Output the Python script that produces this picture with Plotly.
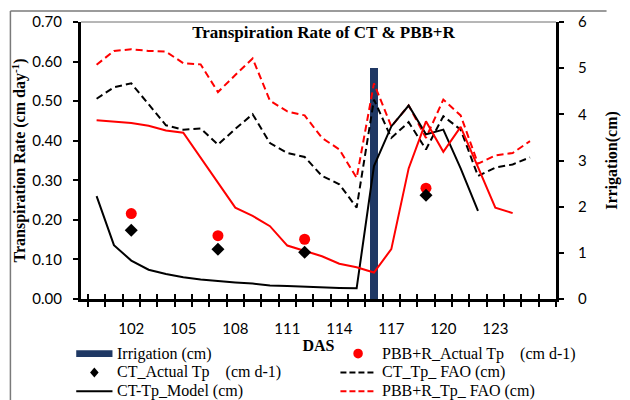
import plotly.graph_objects as go

# ---------------- data ----------------
days_ct_model = list(range(100, 123))
ct_model = [0.260, 0.136, 0.097, 0.074, 0.063, 0.055, 0.049, 0.045, 0.042, 0.039,
            0.034, 0.033, 0.031, 0.029, 0.028, 0.027, 0.336, 0.436, 0.489, 0.416,
            0.428, 0.330, 0.223]

days_pbb_model = list(range(100, 125))
pbb_model = [0.452, 0.449, 0.445, 0.438, 0.426, 0.420, 0.356, 0.293, 0.231, 0.210,
             0.184, 0.135, 0.121, 0.108, 0.089, 0.080, 0.067, 0.126, 0.330, 0.449,
             0.372, 0.435, 0.333, 0.231, 0.217]

days_fao = list(range(100, 126))
ct_fao = [0.506, 0.535, 0.545, 0.491, 0.439, 0.428, 0.431, 0.390, 0.430, 0.467,
          0.394, 0.369, 0.359, 0.311, 0.290, 0.231, 0.504, 0.407, 0.447, 0.378,
          0.462, 0.428, 0.311, 0.332, 0.340, 0.358]
pbb_fao = [0.592, 0.627, 0.631, 0.627, 0.625, 0.596, 0.593, 0.523, 0.566, 0.608,
           0.501, 0.474, 0.464, 0.407, 0.378, 0.306, 0.545, 0.436, 0.489, 0.407,
           0.504, 0.464, 0.342, 0.363, 0.369, 0.399]

obs_days = [102, 107, 112, 119]
ct_actual = [0.174, 0.126, 0.118, 0.262]
pbb_actual = [0.216, 0.160, 0.151, 0.280]

irr_days = [116]
irrigation = [5.0]

x_tick_vals = [102, 105, 108, 111, 114, 117, 120, 123]
x_boundaries = [d + 0.5 for d in range(99, 127)]
left_ticks = [0.0, 0.1, 0.2, 0.3, 0.4, 0.5, 0.6, 0.7]
right_ticks = [0, 1, 2, 3, 4, 5, 6]

legend_labels = ["Irrigation (cm)",
                 "CT_Actual Tp\u00a0\u00a0\u00a0\u00a0(cm d-1)",
                 "CT-Tp_Model (cm)",
                 "PBB+R_Actual Tp\u00a0\u00a0\u00a0\u00a0(cm d-1)",
                 "CT_Tp_ FAO (cm)",
                 "PBB+R_Tp_ FAO (cm)"]

# ---------------- style ----------------
SERIF = "Liberation Serif"
SANS = "Lato"
NAVY = "#1f3864"
RED = "#ff0000"
W_FIG, H_FIG = 630, 400
ML, MR, MT, MB = 81, 51, 20, 101
PW = W_FIG - ML - MR
PH = H_FIG - MT - MB


def PX(x):
    return (x - ML) / PW


def PY(y):
    return (H_FIG - MB - y) / PH


fig = go.Figure()

fig.add_trace(go.Bar(x=irr_days, y=irrigation, width=0.42, marker_color=NAVY,
                     marker_line_width=0, xaxis="x", yaxis="y", showlegend=False,
                     name="Irrigation (cm)"))

fig.add_trace(go.Scatter(x=days_fao, y=ct_fao, mode="lines", xaxis="x2", yaxis="y2",
                         line=dict(color="black", width=2, dash="7px,4px"),
                         showlegend=False, name="CT_Tp_ FAO (cm)"))
fig.add_trace(go.Scatter(x=days_fao, y=pbb_fao, mode="lines", xaxis="x2", yaxis="y2",
                         line=dict(color=RED, width=2, dash="7px,4px"),
                         showlegend=False, name="PBB+R_Tp_ FAO (cm)"))
fig.add_trace(go.Scatter(x=days_ct_model, y=ct_model, mode="lines", xaxis="x2", yaxis="y2",
                         line=dict(color="black", width=2),
                         showlegend=False, name="CT-Tp_Model (cm)"))
fig.add_trace(go.Scatter(x=days_pbb_model, y=pbb_model, mode="lines", xaxis="x2", yaxis="y2",
                         line=dict(color=RED, width=2),
                         showlegend=False, name="PBB+R_Tp_Model"))
fig.add_trace(go.Scatter(x=obs_days, y=pbb_actual, mode="markers", xaxis="x2", yaxis="y2",
                         marker=dict(color=RED, size=11, symbol="circle"),
                         showlegend=False, name="PBB+R_Actual Tp"))
fig.add_trace(go.Scatter(x=obs_days, y=ct_actual, mode="markers", xaxis="x2", yaxis="y2",
                         marker=dict(color="black", size=10, symbol="diamond"),
                         showlegend=False, name="CT_Actual Tp"))

xr = [99.1, 126.5]

fig.update_layout(
    width=W_FIG, height=H_FIG,
    margin=dict(l=ML, r=MR, t=MT, b=MB),
    paper_bgcolor="white", plot_bgcolor="white",
    showlegend=False,
    bargap=0,
    title=dict(text="Transpiration Rate of CT &amp; PBB+R", x=323.5 / W_FIG, xanchor="center",
               y=1 - 32 / H_FIG, yanchor="middle",
               font=dict(family=SERIF, size=17, color="black", weight="bold")),
    xaxis=dict(range=xr, showgrid=False, zeroline=False, showline=True, linecolor="black",
               linewidth=3, tickmode="array", tickvals=x_tick_vals,
               ticktext=[str(v) for v in x_tick_vals], ticks="",
               ticklabelstandoff=14,
               tickfont=dict(family=SANS, size=15, color="black"),
               minor=dict(tickmode="array", tickvals=x_boundaries, ticks="outside",
                          ticklen=5, tickwidth=2, tickcolor="black"),
               title=dict(text="DAS", standoff=1,
                          font=dict(family=SERIF, size=16, color="black", weight="bold")),
               anchor="y", fixedrange=True),
    xaxis2=dict(range=xr, overlaying="x", anchor="y2", side="bottom", showgrid=False,
                zeroline=False, showline=False, tickmode="array", tickvals=x_boundaries,
                ticks="inside", ticklen=5, tickwidth=2, tickcolor="black",
                showticklabels=False),
    yaxis=dict(range=[0, 6], side="right", anchor="x", showgrid=False, zeroline=False,
               showline=True, linecolor="black", linewidth=3, tickmode="array",
               tickvals=right_ticks, ticks="outside", ticklen=5, tickwidth=2,
               tickcolor="black", ticklabelstandoff=11,
               tickfont=dict(family=SANS, size=15, color="black"),
               title=dict(text="Irrigation(cm)", standoff=20,
                          font=dict(family=SERIF, size=16, color="black", weight="bold"))),
    yaxis2=dict(range=[0, 0.7], side="left", overlaying="y", anchor="x2", showgrid=False,
                zeroline=False, showline=True, linecolor="black", linewidth=3,
                tickmode="array", tickvals=left_ticks, tickformat=".2f", ticks="outside",
                ticklen=5, tickwidth=2, tickcolor="black", ticklabelstandoff=8,
                tickfont=dict(family=SANS, size=15, color="black"),
                title=dict(text="Transpiration Rate (cm day<sup>-1</sup>)", standoff=3,
                           font=dict(family=SERIF, size=16, color="black", weight="bold"))),
)

shapes = []
# plot-area top border
shapes.append(dict(type="line", xref="paper", yref="paper", x0=0, x1=1, y0=1, y1=1,
                   line=dict(color="#6f6f6f", width=1)))
# outer chart frame (top and left)
shapes.append(dict(type="line", xref="paper", yref="paper", x0=PX(7), x1=PX(632),
                   y0=PY(9), y1=PY(9), line=dict(color="#7a7a7a", width=1.5)))
shapes.append(dict(type="line", xref="paper", yref="paper", x0=PX(7), x1=PX(7),
                   y0=PY(9), y1=PY(402), line=dict(color="#7a7a7a", width=1.5)))

# ---- legend (manual) ----
row_y = [354, 373, 392]
c1_a, c1_b, c1_t = 76, 114, 117
c2_a, c2_b, c2_t = 353, 390, 394
# irrigation swatch
shapes.append(dict(type="rect", xref="paper", yref="paper", x0=PX(c1_a), x1=PX(c1_b),
                   y0=PY(row_y[0] - 3.5), y1=PY(row_y[0] + 3.5), fillcolor=NAVY,
                   line=dict(width=0)))
# CT actual diamond
cx, cy = (c1_a + c1_b) / 2, row_y[1]
shapes.append(dict(type="path", xref="paper", yref="paper",
                   path="M {} {} L {} {} L {} {} L {} {} Z".format(
                       PX(cx), PY(cy - 5), PX(cx + 4.5), PY(cy), PX(cx), PY(cy + 5),
                       PX(cx - 4.5), PY(cy)),
                   fillcolor="black", line=dict(width=0)))
# CT model line
shapes.append(dict(type="line", xref="paper", yref="paper", x0=PX(c1_a), x1=PX(c1_b),
                   y0=PY(row_y[2]), y1=PY(row_y[2]), line=dict(color="black", width=2)))
# PBB actual dot
cx, cy = (c2_a + c2_b) / 2, row_y[0]
shapes.append(dict(type="circle", xref="paper", yref="paper", x0=PX(cx - 5), x1=PX(cx + 5),
                   y0=PY(cy + 5), y1=PY(cy - 5), fillcolor=RED, line=dict(width=0)))
# CT FAO dashed
shapes.append(dict(type="line", xref="paper", yref="paper", x0=PX(c2_a), x1=PX(c2_b),
                   y0=PY(row_y[1]), y1=PY(row_y[1]),
                   line=dict(color="black", width=2, dash="6px,3px")))
# PBB FAO dashed
shapes.append(dict(type="line", xref="paper", yref="paper", x0=PX(c2_a), x1=PX(c2_b),
                   y0=PY(row_y[2]), y1=PY(row_y[2]),
                   line=dict(color=RED, width=2, dash="6px,3px")))
fig.update_layout(shapes=shapes)

annotations = []
for i in range(3):
    annotations.append(dict(xref="paper", yref="paper", x=PX(c1_t), y=PY(row_y[i]),
                            xanchor="left", yanchor="middle", showarrow=False,
                            text=legend_labels[i],
                            font=dict(family=SERIF, size=16, color="black")))
    annotations.append(dict(xref="paper", yref="paper", x=PX(c2_t), y=PY(row_y[i]),
                            xanchor="left", yanchor="middle", showarrow=False,
                            text=legend_labels[3 + i],
                            font=dict(family=SERIF, size=16, color="black")))
fig.update_layout(annotations=annotations)

fig.write_html("out.html")
